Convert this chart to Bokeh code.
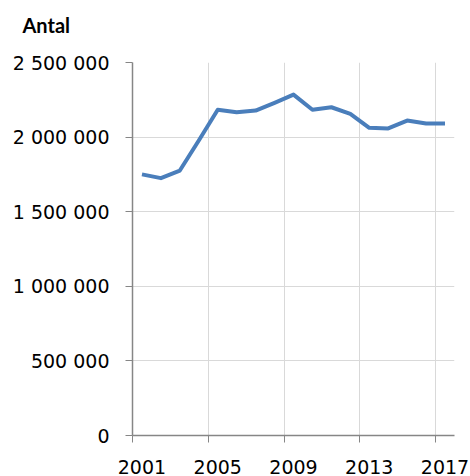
from bokeh.plotting import figure
from bokeh.models import Range1d, FixedTicker, Title
from bokeh.embed import file_html
from bokeh.resources import INLINE

years = list(range(2001, 2018))
antal = [1750000, 1725000, 1776000, 1977000, 2183000, 2167000, 2178000, 2230000,
         2285000, 2183000, 2200000, 2156000, 2062000, 2058000, 2111000, 2091000, 2091000]
x_label_years = [2001, 2005, 2009, 2013, 2017]
y_ticks = [0, 500000, 1000000, 1500000, 2000000, 2500000]
y_tick_labels = ["0", "500 000", "1 000 000", "1 500 000", "2 000 000", "2 500 000"]
y_title = "Antal"

FONT = "DejaVu Sans"
AXIS_GRAY = "#868686"
GRID_GRAY = "#d9d9d9"

p = figure(frame_width=322, frame_height=373, output_backend="svg", toolbar_location=None,
           x_range=Range1d(2000.5, 2017.5), y_range=Range1d(0, 2500000),
           min_border_left=132, min_border_right=16, min_border_top=62, min_border_bottom=41,
           title=y_title)
p.outline_line_color = None
p.background_fill_color = "white"

# spacer panel between the frame and the "Antal" title
p.add_layout(Title(text=" ", text_font="Lato", text_font_size="20px", standoff=0), "above")

p.title.align = "left"
p.title.offset = -110
p.title.text_font = "Lato"
p.title.text_font_style = "bold"
p.title.text_font_size = "20px"
p.title.text_color = "black"
p.title.vertical_align = "bottom"
p.title.standoff = 0

p.line(years, antal, line_color="#4A7EBB", line_width=4, line_join="round")

# x axis: labels at category centres, tick marks at category boundaries
xa = p.xaxis[0]
xa.ticker = FixedTicker(ticks=x_label_years, minor_ticks=[y - 0.5 for y in x_label_years])
xa.major_tick_out = 0
xa.major_tick_in = 0
xa.minor_tick_out = 7
xa.minor_tick_in = 0
xa.minor_tick_line_color = AXIS_GRAY
xa.axis_line_color = AXIS_GRAY
xa.axis_line_width = 1.5
xa.major_label_text_font = FONT
xa.major_label_text_font_size = "19px"
xa.major_label_text_color = "black"
xa.major_label_standoff = 17

ya = p.yaxis[0]
ya.ticker = FixedTicker(ticks=y_ticks)
ya.major_label_overrides = {t: l for t, l in zip(y_ticks, y_tick_labels)}
ya.major_tick_out = 7
ya.major_tick_in = 0
ya.minor_tick_out = 0
ya.minor_tick_in = 0
ya.major_tick_line_color = AXIS_GRAY
ya.axis_line_color = AXIS_GRAY
ya.axis_line_width = 1.5
ya.major_label_text_font = FONT
ya.major_label_text_font_size = "19px"
ya.major_label_text_color = "black"
ya.major_label_standoff = 16

p.xgrid.ticker = FixedTicker(ticks=[y - 0.5 for y in x_label_years[1:]])
p.xgrid.grid_line_color = GRID_GRAY
p.ygrid.grid_line_color = GRID_GRAY

open("out.html", "w").write(file_html(p, INLINE))
